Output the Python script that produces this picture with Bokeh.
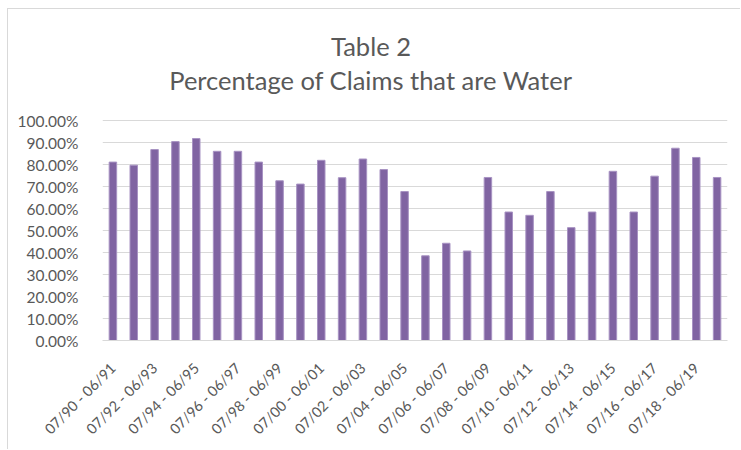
import math
from bokeh.plotting import figure
from bokeh.models import FixedTicker, NumeralTickFormatter, Range1d, Label, ColumnDataSource
from bokeh.embed import file_html
from bokeh.resources import INLINE

# ---- data ----
periods = ["07/%02d - 06/%02d" % ((90 + i) % 100, (91 + i) % 100) for i in range(30)]
water_share = [81.1, 79.7, 86.8, 90.4, 91.8, 86.0, 86.0, 81.1, 72.6, 71.1,
               81.9, 74.0, 82.5, 77.7, 67.7, 38.5, 44.2, 40.7, 74.1, 58.4,
               56.9, 67.7, 51.3, 58.4, 76.9, 58.4, 74.7, 87.4, 83.2, 74.1]
y_ticks = [i / 10 for i in range(11)]
label_every = 2
title_main = "Table 2"
title_sub = "Percentage of Claims that are Water"

# ---- layout (pixels) ----
FRAME_LEFT, FRAME_RIGHT = 102, 727       # page x of the plot area
Y100, Y0 = 120, 340                      # page y of 100% and 0%
FRAME_TOP = 20                           # plot area extended upward to hold the titles
ORIGIN_X, ORIGIN_Y = 8, 9                # page position of the figure content
TITLE_CX = 370.5                         # page x of title centre
TITLE_BASE = (45.0, 79.5)                # page y used for the title labels

n = len(periods)
px_per_y = (Y0 - Y100) / 1.0
px_per_x = (FRAME_RIGHT - FRAME_LEFT) / n
y_end = 1.0 + (Y100 - FRAME_TOP) / px_per_y

idx = list(range(n))
src = ColumnDataSource(dict(x=idx, top=[v / 100 for v in water_share], period=periods))

TXT = "#595959"
FONT = "Lato"

W, H = 733, 441
p = figure(width=W, height=H, output_backend="svg", toolbar_location=None,
           x_range=Range1d(-0.5, n - 0.5), y_range=Range1d(0, y_end),
           min_border_left=FRAME_LEFT - ORIGIN_X, min_border_right=ORIGIN_X + W - FRAME_RIGHT,
           min_border_top=FRAME_TOP - ORIGIN_Y, min_border_bottom=ORIGIN_Y + H - Y0,
           background_fill_color="white", border_fill_color="white")
p.styles = {"border-top": "1px solid #d9d9d9", "border-left": "1px solid #d9d9d9",
            "margin-left": "7px", "margin-top": "8px"}
p.outline_line_color = None

p.vbar(x="x", top="top", width=0.36, source=src, fill_color="#8064a2",
       line_color="#a893c3", line_width=1)

# titles
tx = -0.5 + (TITLE_CX - FRAME_LEFT) / px_per_x
for txt, base in zip((title_main, title_sub), TITLE_BASE):
    p.add_layout(Label(x=tx, y=(Y0 - base) / px_per_y, text=txt,
                       text_align="center", text_baseline="alphabetic",
                       text_font=FONT, text_font_size="25.5px", text_color=TXT))

# y axis
p.yaxis.ticker = FixedTicker(ticks=y_ticks)
p.yaxis.formatter = NumeralTickFormatter(format="0.00%")
p.yaxis.axis_line_color = None
p.yaxis.major_tick_line_color = None
p.yaxis.minor_tick_line_color = None
p.yaxis.major_label_text_font = FONT
p.yaxis.major_label_text_font_size = "15.5px"
p.yaxis.major_label_text_color = TXT
p.yaxis.major_label_standoff = 18

# x axis
p.xaxis.ticker = FixedTicker(ticks=idx[::label_every])
p.xaxis.major_label_overrides = {i: periods[i] for i in idx[::label_every]}
p.xaxis.major_label_orientation = math.pi / 4
p.xaxis.axis_line_color = "#d9d9d9"
p.xaxis.axis_line_width = 1
p.xaxis.major_tick_line_color = None
p.xaxis.minor_tick_line_color = None
p.xaxis.major_label_text_font = FONT
p.xaxis.major_label_text_font_size = "14.5px"
p.xaxis.major_label_text_color = TXT
p.xaxis.major_label_standoff = 19

p.xgrid.grid_line_color = None
p.ygrid.grid_line_color = "#d9d9d9"
p.ygrid.grid_line_width = 1

open("out.html", "w").write(file_html(p, INLINE))
